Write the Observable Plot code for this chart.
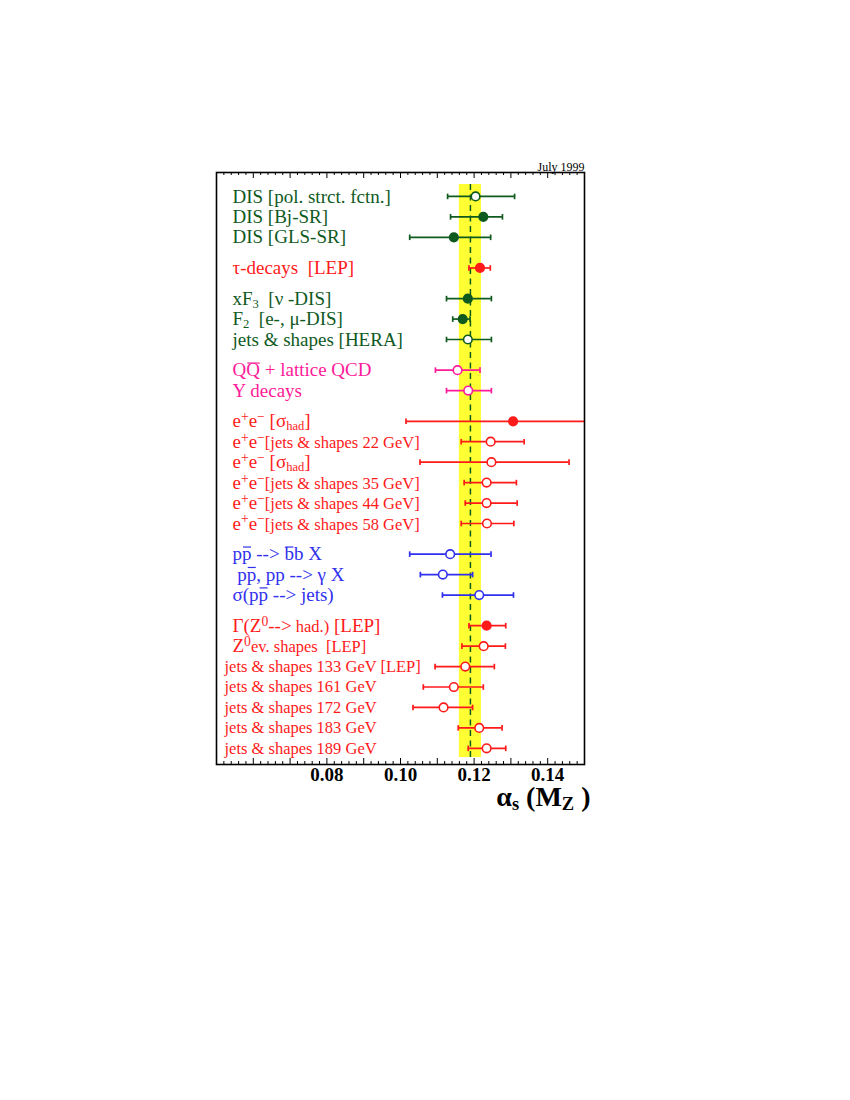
<!DOCTYPE html>
<html>
<head>
<meta charset="utf-8">
<script src="https://cdn.jsdelivr.net/npm/d3@7"></script>
<script src="https://cdn.jsdelivr.net/npm/@observablehq/plot@0.6"></script>
<style>
  html, body { margin: 0; padding: 0; background: white; }
  svg text, svg tspan { white-space: pre; }
</style>
</head>
<body>
<script>
// ---- data ----
const labels = [
  "DIS [pol. strct. fctn.]",
  "DIS [Bj-SR]",
  "DIS [GLS-SR]",
  "τ-decays  [LEP]",
  "xF_{3}  [ν -DIS]",
  "F_{2}  [e-, μ-DIS]",
  "jets & shapes [HERA]",
  "Q~{Q} + lattice QCD",
  "Υ decays",
  "e^{+}e^{−} [σ_{had}]",
  "e^{+}e^{−}#{[jets & shapes 22 GeV]}",
  "e^{+}e^{−} [σ_{had}]",
  "e^{+}e^{−}#{[jets & shapes 35 GeV]}",
  "e^{+}e^{−}#{[jets & shapes 44 GeV]}",
  "e^{+}e^{−}#{[jets & shapes 58 GeV]}",
  "p~{p} --> ~{b}b X",
  " p~{p}, pp --> γ X",
  "σ(p~{p} --> jets)",
  "Γ(Z^{0}-->#{ had.)} [LEP]",
  "Z^{0}#{ev. shapes  [LEP]}",
  "jets & shapes 133 GeV [LEP]",
  "jets & shapes 161 GeV",
  "jets & shapes 172 GeV",
  "jets & shapes 183 GeV",
  "jets & shapes 189 GeV"
];
const alphaValues = [0.1204, 0.1225, 0.1145, 0.1216, 0.1183, 0.1169, 0.1183, 0.1155, 0.1184,
  0.1306, 0.1245, 0.1247, 0.1234, 0.1234, 0.1235, 0.1135, 0.1115, 0.1214,
  0.1234, 0.1226, 0.1176, 0.1145, 0.1117, 0.1214, 0.1234];
const lowEdges = [0.1128, 0.1136, 0.1025, 0.1186, 0.1125, 0.1142, 0.1125, 0.1095, 0.1125,
  0.1015, 0.1165, 0.1053, 0.1173, 0.1176, 0.1165, 0.1025, 0.1054, 0.1114,
  0.1186, 0.1167, 0.1094, 0.1062, 0.1034, 0.1157, 0.1184];
const highEdges = [0.1310, 0.1277, 0.1245, 0.1244, 0.1247, 0.1189, 0.1247, 0.1216, 0.1247,
  0.1600, 0.1336, 0.1458, 0.1315, 0.1317, 0.1308, 0.1246, 0.1196, 0.1307,
  0.1286, 0.1285, 0.1255, 0.1225, 0.1196, 0.1276, 0.1286];
const filled = [false, true, true, true, true, true, false, false, false,
  true, false, false, false, false, false, false, false, false,
  true, false, false, false, false, false, false];
const family = ["dis", "dis", "dis", "lep", "dis", "dis", "dis", "onium", "onium",
  "ee", "ee", "ee", "ee", "ee", "ee", "pp", "pp", "pp",
  "lep", "lep", "lep", "lep", "lep", "lep", "lep"];
const section = [0, 0, 0, 1, 2, 2, 2, 3, 3, 4, 4, 4, 4, 4, 4, 5, 5, 5, 6, 6, 6, 6, 6, 6, 6];
const worldAverage = 0.119;
const worldBand = [0.116, 0.122];
const tickLabels = [0.08, 0.10, 0.12, 0.14];
const dateLabel = "July 1999";
const axisTitle = "α_{s} (M_{Z} )";

// ---- styles ----
const colors = { dis: "#0f5a1e", lep: "#ff1a1a", onium: "#ff1a99", ee: "#ff1a1a", pp: "#3030ee" };
const BIG = 19, SMALL = 16.5, TITLE = 28;

const rows = labels.map((label, i) => ({
  label, value: alphaValues[i], lo: lowEdges[i], hi: highEdges[i],
  filled: filled[i], family: family[i], y: i + 0.5 * section[i], i
}));

const capSymbol = {
  draw(ctx, size) { const h = Math.sqrt(size / Math.PI); ctx.moveTo(0, -h); ctx.lineTo(0, h); }
};

const frameH = 1100 - 172 - 336;
const majorTicks = d3.range(5, 16).map(k => k / 100);
const minorTicks = d3.range(25, 76).map(k => k / 500).filter(v => Math.abs(v * 100 - Math.round(v * 100)) > 1e-6);

const chart = Plot.plot({
  width: 850, height: 1100,
  marginLeft: 216, marginRight: 266, marginTop: 172, marginBottom: 336,
  x: { domain: [0.05, 0.15], axis: null },
  y: { domain: [-1.17, 27.79], reverse: true, axis: null },
  color: { type: "identity" },
  style: { fontFamily: "'Liberation Serif', 'Times New Roman', serif", background: "white", overflow: "visible" },
  marks: [
    Plot.rect([worldBand], { x1: d => d[0], x2: d => d[1], fill: "#ffff33", insetTop: 12, insetBottom: 7 }),
    Plot.ruleX([worldAverage], { stroke: "#0f5a1e", strokeWidth: 1.5, strokeDasharray: "6,4.5", insetTop: 12, insetBottom: 7 }),
    Plot.ruleY(rows, { x1: "lo", x2: "hi", y: "y", stroke: d => colors[d.family], strokeWidth: 1.7, clip: true }),
    Plot.dot(rows, { x: "lo", y: "y", symbol: capSymbol, r: 2.8, stroke: d => colors[d.family], strokeWidth: 1.7, fill: "none", clip: true }),
    Plot.dot(rows, { x: "hi", y: "y", symbol: capSymbol, r: 2.8, stroke: d => colors[d.family], strokeWidth: 1.7, fill: "none", clip: true }),
    Plot.dot(rows, { x: "value", y: "y", r: 4.3, stroke: d => colors[d.family], strokeWidth: 1.6,
      fill: d => d.filled ? colors[d.family] : "white" }),
    Plot.text(rows.filter(d => d.i < 20), { y: "y", text: "label", frameAnchor: "left", dx: 16, textAnchor: "start",
      fill: d => colors[d.family], fontSize: BIG }),
    Plot.text(rows.filter(d => d.i >= 20), { y: "y", text: "label", frameAnchor: "left", dx: 8, textAnchor: "start",
      fill: d => colors[d.family], fontSize: SMALL }),
    Plot.frame({ stroke: "black", strokeWidth: 1.6 }),
    Plot.ruleX(majorTicks, { x: d => d, stroke: "black", strokeWidth: 1, insetTop: frameH - 6 }),
    Plot.ruleX(majorTicks, { x: d => d, stroke: "black", strokeWidth: 1, insetBottom: frameH - 6 }),
    Plot.ruleX(minorTicks, { x: d => d, stroke: "black", strokeWidth: 1, insetTop: frameH - 3 }),
    Plot.ruleX(minorTicks, { x: d => d, stroke: "black", strokeWidth: 1, insetBottom: frameH - 3 }),
    Plot.text(tickLabels, { x: d => d, text: d => d.toFixed(2), frameAnchor: "bottom", dy: 16,
      fontSize: 19, fontWeight: "bold", fill: "black" }),
    Plot.text([dateLabel], { text: d => d, frameAnchor: "top-right", textAnchor: "end", dy: -10, dx: 0, fontSize: 12, fill: "black" }),
    Plot.text([axisTitle], { text: d => d, frameAnchor: "bottom-right", textAnchor: "end", dy: 41, dx: 6,
      fontSize: TITLE, fontWeight: "bold", fill: "black" })
  ]
});

// render simple markup (^{} sup, _{} sub, ~{} overline, #{} smaller) as tspans
function renderMarkup(textEl) {
  const str = textEl.textContent;
  if (!/[\^_~#]\{/.test(str)) return;
  const holder = textEl.closest("[font-size]");
  const base = holder ? parseFloat(holder.getAttribute("font-size")) : BIG;
  const re = /([\^_~#])\{([^}]*)\}/g;
  const segs = []; let last = 0, m;
  while ((m = re.exec(str))) {
    if (m.index > last) segs.push({ t: "n", s: str.slice(last, m.index) });
    segs.push({ t: m[1], s: m[2] });
    last = re.lastIndex;
  }
  if (last < str.length) segs.push({ t: "n", s: str.slice(last) });
  textEl.textContent = "";
  let shift = 0;
  for (const seg of segs) {
    const ts = d3.select(textEl).append("tspan").text(seg.s);
    let target = 0, size = base;
    if (seg.t === "^") { target = -0.32 * base; size = 0.72 * base; }
    else if (seg.t === "_") { target = 0.16 * base; size = 0.66 * base; }
    else if (seg.t === "#") { size = SMALL; }
    else if (seg.t === "~") { ts.classed("ovl", true); }
    ts.attr("font-size", size);
    if (target !== shift) { ts.attr("dy", target - shift); shift = target; }
  }
}
chart.querySelectorAll("text").forEach(renderMarkup);

document.body.appendChild(chart);

// draw overlines above marked tspans
const svgBox = chart.getBoundingClientRect();
chart.querySelectorAll("tspan.ovl").forEach(ts => {
  const r = ts.getBoundingClientRect();
  const fs = parseFloat(ts.getAttribute("font-size"));
  const holder = ts.closest("[fill]");
  const color = holder ? holder.getAttribute("fill") : "black";
  const y = r.top - svgBox.top + 0.2 * fs;
  d3.select(chart).append("line")
    .attr("x1", r.left - svgBox.left + 1).attr("x2", r.right - svgBox.left - 0.5)
    .attr("y1", y).attr("y2", y)
    .attr("stroke", color).attr("stroke-width", 1.2);
});
</script>
</body>
</html>
